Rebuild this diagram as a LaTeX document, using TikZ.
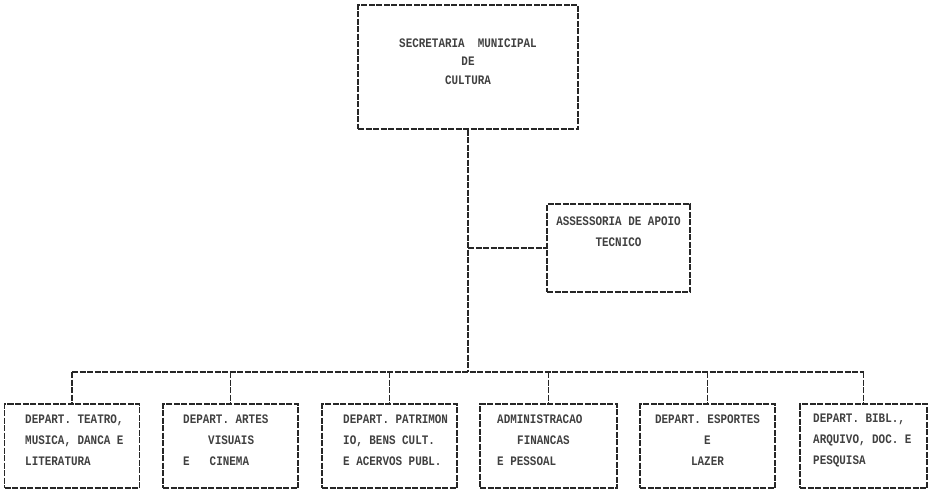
\documentclass[tikz,border=0pt]{standalone}
\usepackage{fontspec}
\newfontfamily\tw[FakeStretch=0.84, UprightFont=* Bold]{Liberation Mono}
\begin{document}
\begin{tikzpicture}[x=1pt,y=-1pt,
  ln/.style={draw=black!85, line width=1.1pt, dash pattern=on 6pt off 1.5pt},
  box/.style={ln, rectangle, inner sep=0pt},
  txt/.style={font=\tw\fontsize{13}{21}\selectfont, text=black!75, inner sep=0pt}]
\useasboundingbox (0,0) rectangle (929,491);
% top box
\node[box, minimum width=220pt, minimum height=124pt] (top) at (468,67) {};
\node[txt, align=center] (toptxt) at (468,62) {SECRETARIA\ \ MUNICIPAL\\[-3pt]DE\\[-2pt]CULTURA};
% side box
\node[box, minimum width=143pt, minimum height=88pt] (side) at (618.5,248) {};
\node[txt, align=center] (sidetxt) at (618.5,232) {ASSESSORIA DE APOIO\\TECNICO};
% bottom boxes
\node[box, minimum width=135pt, minimum height=84pt] (b1) at (72,446) {};
\node[box, minimum width=135pt, minimum height=84pt] (b2) at (230.5,446) {};
\node[box, minimum width=135pt, minimum height=84pt] (b3) at (389.5,446) {};
\node[box, minimum width=137pt, minimum height=84pt] (b4) at (548.5,446) {};
\node[box, minimum width=135pt, minimum height=84pt] (b5) at (707.5,446) {};
\node[box, minimum width=127pt, minimum height=84pt] (b6) at (863.5,446) {};
\node[txt, align=left, anchor=west] (t1) at (25,440) {DEPART. TEATRO,\\MUSICA, DANCA E\\LITERATURA};
\node[txt, align=left, anchor=west] (t2) at (183,440) {DEPART. ARTES\\\hspace*{25pt}VISUAIS\\E\hspace*{20pt}CINEMA};
\node[txt, align=left, anchor=west] (t3) at (343,440) {DEPART. PATRIMON\\IO, BENS CULT.\\E ACERVOS PUBL.};
\node[txt, align=left, anchor=west] (t4) at (497,440) {ADMINISTRACAO\\\hspace*{20pt}FINANCAS\\E PESSOAL};
\node[txt, align=center] (t5) at (707.5,440) {DEPART. ESPORTES\\E\\LAZER};
\node[txt, align=left, anchor=west] (t6) at (813,440) {DEPART. BIBL.,\\ARQUIVO, DOC. E\\PESQUISA};
% connectors
\coordinate (bus) at (top.south |- 0,372);
\coordinate (bl) at (b1.north |- bus);
\coordinate (br) at (b6.north |- bus);
\coordinate (br0) at (top.south |- side.west);
\draw[ln] (top.south) -- (bus);
\draw[ln] (br0) -- (side.west);
\draw[ln] (bl) -- (br);
\foreach \b in {b1,b2,b3,b4,b5,b6} \draw[ln] (\b.north |- bus) -- (\b.north);
\end{tikzpicture}
\end{document}
